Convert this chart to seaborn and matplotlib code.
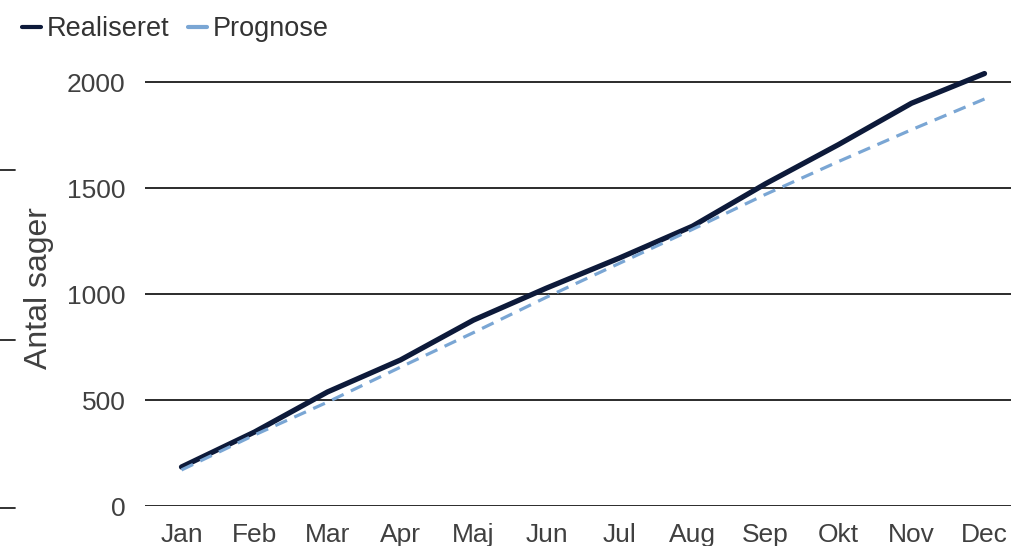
import numpy as np
import pandas as pd
import matplotlib
matplotlib.use("Agg")
import matplotlib.pyplot as plt
import seaborn as sns
from matplotlib.lines import Line2D

# data
maaneder = ["Jan", "Feb", "Mar", "Apr", "Maj", "Jun", "Jul", "Aug", "Sep", "Okt", "Nov", "Dec"]
realiseret = [184, 349, 538, 689, 877, 1028, 1170, 1320, 1520, 1705, 1900, 2040]
prognose = [170, 335, 490, 655, 818, 985, 1145, 1305, 1470, 1625, 1775, 1920]
y_ticks = [0, 500, 1000, 1500, 2000]

df = pd.DataFrame({"Måned": maaneder, "Realiseret": realiseret, "Prognose": prognose})
df["x"] = np.arange(len(maaneder))

sns.set_style("white")
plt.rcParams["font.family"] = ["Liberation Sans", "DejaVu Sans"]

fig = plt.figure(figsize=(10.12, 5.46), dpi=100)
# axes: y from 0 (px 506) up to top of image (~2387)
ax = fig.add_axes([145 / 1012, 40 / 546, 876 / 1012, 506 / 546])

sns.lineplot(data=df, x="x", y="Realiseret", ax=ax, color="#0d1a3a", linewidth=3.8,
             label="Realiseret", solid_capstyle="round")
sns.lineplot(data=df, x="x", y="Prognose", ax=ax, color="#7aa6d4", linewidth=2.3,
             label="Prognose", dashes=(4, 2.5))

ax.set_xlim(-0.5, len(maaneder) - 0.5)
ax.set_ylim(0, 2387)
ax.set_yticks(y_ticks)
ax.set_xticks(df["x"])
ax.set_xticklabels(maaneder)
ax.yaxis.grid(True, color="#1a1a1a", linewidth=1.3)
ax.xaxis.grid(False)
for s in ax.spines.values():
    s.set_visible(False)
ax.tick_params(axis="both", length=0, labelsize=19, colors="#404040")
ax.tick_params(axis="x", pad=12)
ax.tick_params(axis="y", pad=14)
ax.set_xlabel("")
ax.set_ylabel("Antal sager", fontsize=23, color="#404040")
ax.yaxis.set_label_coords(-0.104, 0.43)
ax.set_axisbelow(True)

ax.get_legend().remove()
handles = [Line2D([0], [0], color="#0d1a3a", linewidth=3),
           Line2D([0], [0], color="#7aa6d4", linewidth=3)]
fig.legend(handles, ["Realiseret", "Prognose"], loc="upper left", bbox_to_anchor=(-0.002, 1.015),
           ncol=2, frameon=False, fontsize=19.5, handlelength=0.7, handletextpad=0.2,
           columnspacing=0.7, labelcolor="#333333")

# short marks at left edge of the picture
for yp in [170, 340, 508]:
    fig.add_artist(Line2D([0, 15 / 1012], [1 - yp / 546, 1 - yp / 546], color="#222222", linewidth=1.3))

fig.savefig("out.png", dpi=100)
